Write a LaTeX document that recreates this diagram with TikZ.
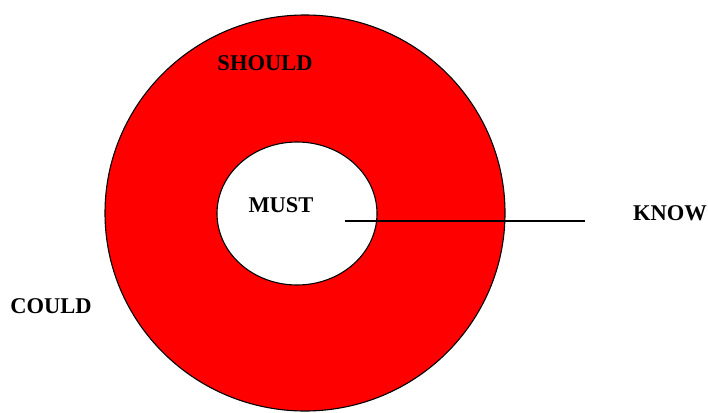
\documentclass[tikz,border=0pt]{standalone}
\usepackage{fontspec}
\setmainfont{Liberation Serif}
\definecolor{ringred}{RGB}{255,0,0}
\begin{document}
\begin{tikzpicture} [x = 1pt, y = -1pt, lab/.style = {font = \fontsize{22.5}{25}\bfseries}, edge/.style = {line width = 1.1pt}]
	\useasboundingbox (0,0) rectangle (708,412);
	\draw [edge, fill = ringred] (305,213) ellipse (200pt and 198pt);
	\draw [edge, fill = white] (297,213.5) ellipse (80pt and 71.5pt);
	\coordinate (lineA) at (345,221);
	\coordinate (lineB) at (585,221);
	\draw [edge] (lineA) -- (lineB);
	\node [lab] (should) at (265,63) {SHOULD};
	\node [lab] (must) at (281,205) {MUST};
	\node [lab] (know) at (670,213) {KNOW};
	\node [lab] (could) at (51,306) {COULD};
\end{tikzpicture}
\end{document}
